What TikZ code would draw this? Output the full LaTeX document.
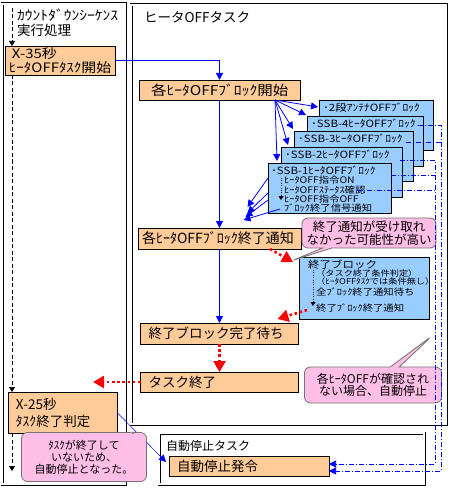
\documentclass[tikz,border=0pt]{standalone}
\usepackage{fontspec}
\setmainfont{Noto Sans CJK JP}
\newfontfamily\wide[FakeStretch=1.15]{Noto Sans CJK JP}
\usetikzlibrary{arrows.meta, positioning, calc, shapes.callouts}
\definecolor{peach}{RGB}{255,204,153}
\definecolor{skyblue}{RGB}{153,204,255}
\definecolor{pinknote}{RGB}{255,190,230}
\definecolor{linkblue}{RGB}{0,0,255}
\newcommand{\fL}{\fontsize{13.5}{15}\selectfont}
\newcommand{\fM}{\fontsize{12}{13}\selectfont}
\newcommand{\fS}{\wide\fontsize{10}{11}\selectfont}
\newcommand{\fT}{\wide\fontsize{9}{8}\selectfont}

\begin{document}
\begin{tikzpicture}[x=1pt, y=-1pt,
  basic/.style   = {draw, line width=0.8pt, outer sep=0pt, anchor=north west},
  peach/.style   = {basic, fill=peach, align=left, font=\fL, inner xsep=8pt, inner ysep=0pt},
  bluebox/.style = {basic, fill=skyblue, inner sep=0pt},
  lbl/.style     = {anchor=north west, align=left, inner sep=0pt, font=\fS},
  frame/.style   = {draw, double, double distance=1.6pt, line width=0.7pt},
  title/.style   = {anchor=north west, align=left, inner sep=0pt},
  note/.style    = {rectangle callout, draw=black!55, fill=pinknote, line width=0.8pt,
                    rounded corners=6pt, callout pointer width=9pt, align=center, inner sep=0pt},
  flow/.style    = {draw=linkblue, line width=0.8pt, -{Triangle[length=7pt,width=7pt]}},
  ctrl/.style    = {draw=linkblue, line width=0.6pt, dash pattern=on 5pt off 2pt on 1pt off 2pt},
  seq/.style     = {draw, line width=0.6pt, dash pattern=on 4pt off 2.5pt, -{Triangle[length=5pt,width=6pt]}},
  alarm/.style   = {draw=red, line width=2.6pt, dash pattern=on 2.6pt off 2.6pt,
                    -{Triangle[length=11pt,width=12pt]}}]

\useasboundingbox (0,0) rectangle (451,489);

% the three task frames
\draw[frame] (2,4) rectangle (125,484);
\draw[frame] (131,5) rectangle (446,424);
\draw[frame] (159,433) rectangle (424,484);
\node[title, font=\fontsize{13.5}{15}\selectfont] (lane1) at (17,9) {{\wide ｶｳﾝﾄﾀﾞｳﾝｼｰｹﾝｽ}\\実行処理};
\node[title, font=\fL] (lane2) at (144,11) {ヒータOFFタスク};
\node[title, font=\fM] (lane3) at (166,440) {自動停止タスク};

% countdown sequence
\node[peach, text width=102pt, minimum height=29pt, inner xsep=4pt, font=\wide\fontsize{13}{13.5}\selectfont]
  (x35) at (5,46) {\hspace*{3pt}X-35秒\\ﾋｰﾀOFFﾀｽｸ開始};
\node[peach, text width=93pt, minimum height=41pt, font=\fontsize{13.5}{17}\selectfont]
  (x25) at (8,392) {X-25秒\\ﾀｽｸ終了判定};

% heater OFF task, main column
\node[peach, text width=137pt, minimum height=20pt, inner xsep=12pt, font=\wide\fL] (start) at (139,80) {各ﾋｰﾀOFFﾌﾞﾛｯｸ開始};
\node[peach, text width=155pt, minimum height=21pt, inner xsep=4pt, font=\fontsize{14}{15}\selectfont,
  below=128pt of start] (fin) {各ﾋｰﾀOFFﾌﾞﾛｯｸ終了通知};
\node[peach, text width=142pt, minimum height=21pt, below=74pt of fin] (wait) {終了ブロック完了待ち};
\node[peach, text width=142pt, minimum height=20pt, below=28pt of wait] (tend) {タスク終了};

% auto stop task
\node[peach, text width=144pt, minimum height=20pt] (stop) at (169,456) {自動停止発令};

% stacked heater blocks, back to front
\foreach \n/\xx/\yy/\w/\txt in {1/319/100/114/{･2段ｱﾝﾃﾅOFFﾌﾞﾛｯｸ},
                                2/307/116/116/{･SSB-4ﾋｰﾀOFFﾌﾞﾛｯｸ},
                                3/294/131/119/{･SSB-3ﾋｰﾀOFFﾌﾞﾛｯｸ},
                                4/281/147/121/{･SSB-2ﾋｰﾀOFFﾌﾞﾛｯｸ}} {
  \node[bluebox, minimum width=\w pt, minimum height=50pt] (b\n) at (\xx,\yy) {};
  \node[lbl] (b\n-txt) at ($(b\n.north west)+(4,3)$) {\txt};
}
\node[bluebox, minimum width=123pt, minimum height=50pt] (b5) at (268,163) {};
\node[lbl, font=\fT] (b5-txt) at ($(b5.north west)+(3,3)$)
  {{\fS ･SSB-1ﾋｰﾀOFFﾌﾞﾛｯｸ}\\
   \hspace*{13pt}ﾋｰﾀOFF指令ON\\
   \hspace*{13pt}ﾋｰﾀOFFｽﾃｰﾀｽ確認\\
   \hspace*{13pt}ﾋｰﾀOFF指令OFF\\
   \hspace*{13pt}ﾌﾞﾛｯｸ終了信号通知};
\draw[dotted, -{Triangle[length=4pt,width=5pt]}] ($(b5.north west)+(13,15)$) -- ($(b5.north west)+(13,37)$);

% end block
\node[bluebox, minimum width=130pt, minimum height=62pt] (endblk) at (299,257) {};
\node[lbl, font=\fT] (endblk-txt) at ($(endblk.north west)+(9,3)$)
  {{\fontsize{10}{11}\selectfont 終了ブロック}\\
   \hspace*{8pt}{\fontsize{8}{8}\selectfont （タスク終了条件判定）}\\
   \hspace*{8pt}{\fontsize{8}{8}\selectfont （ﾋｰﾀOFFﾀｽｸでは条件無し）}\\[1pt]
   \hspace*{8pt}全ﾌﾞﾛｯｸ終了通知待ち\\[7pt]
   \hspace*{8pt}終了ﾌﾞﾛｯｸ終了通知};
\draw[dotted, -{Triangle[length=4pt,width=5pt]}] ($(endblk.north west)+(14,13)$) -- ($(endblk.north west)+(14,49)$);

% countdown dashed line
\coordinate (cdtop) at (12,8);
\coordinate (cdend) at (12,471);
\draw[seq] (cdtop) -- (cdtop |- x35.north);
\draw[seq] (cdtop |- x35.south) -- (cdtop |- x25.north);
\draw[seq] (cdtop |- x25.south) -- (cdend);

% main flow
\draw[flow] (x35.east) -| (start.north);
\draw[flow] (start.south) -- (fin.north);
\draw[flow] (fin.south) -- (wait.north);
\draw[flow, line width=0.5pt] (x25.east) -- ($(stop.north west)+(-3,6)$);

% fan out to the heater blocks
\coordinate (fan) at ($(start.south east)+(-25,0)$);
\coordinate (t1) at ($(b1.north west)+(-1,7)$);
\coordinate (t2) at ($(b2.north west)+(-1,-1)$);
\coordinate (t3) at ($(b3.north west)+(-1,-2)$);
\coordinate (t4) at ($(b4.north west)+(7,-2)$);
\coordinate (t5) at ($(b5.north west)+(9,-2)$);
\foreach \i in {1,...,5}
  \draw[flow] (fan) -- (t\i);

% block end signals
\foreach \s/\e in {{0,15}/{28,-21}, {0,30}/{28,-15}, {0,37}/{26,-11}, {12,46}/{24,-8}}
  \draw[flow] ($(b5.north west)+(\s)$) -- ($(fin.north)+(\e)$);

% notes
\node[note, minimum width=134pt, minimum height=30pt, font=\fontsize{12.5}{13}\selectfont,
  callout absolute pointer={(291,261)}] (n1) at (369,233) {終了通知が受け取れ\\なかった可能性が高い};
\node[note, minimum width=137pt, minimum height=36pt, font=\fontsize{12}{12.5}\selectfont,
  callout absolute pointer={(432,336)}] (n2) at (373,385) {各ﾋｰﾀOFFが確認され\\ない場合、自動停止};
\node[note, minimum width=125pt, minimum height=49pt, font=\fontsize{11}{12}\selectfont,
  callout absolute pointer={(138,432)}] (n3) at (84,457) {ﾀｽｸが終了して\\いないため、\\自動停止となった。};

% end of task, red dotted
\coordinate (lost) at (93,382);
\draw[alarm] ($(fin.south east)+(-31,0)$) -- ($(endblk.north west)+(-6,5)$);
\draw[alarm] ($(endblk.south west)+(8,-9)$) -- ($(wait.north east)+(-21,-4)$);
\draw[alarm] (wait.south) -- (tend.north);
\draw[alarm] (tend.west) -- (lost);

% supervision lines to the auto stop
\coordinate (busA) at (441,471);
\coordinate (busB) at (435,464);
\coordinate (r1) at ($(b2.north east)+(-5,9)$);
\coordinate (r2) at ($(b3.north east)+(-7,11)$);
\coordinate (r3) at ($(b4.north east)+(-2,13)$);
\coordinate (r4) at ($(b5.north east)+(0,12)$);
\coordinate (r5) at ($(b5.north west)+(89,27)$);
\draw[ctrl, -{Triangle[length=7pt,width=7pt]}] (r1) -| (busA) -- (busA -| stop.east);
\draw[ctrl, -{Triangle[length=7pt,width=7pt]}] (r3) -| (busB) -- (busB -| stop.east);
\draw[ctrl] (r2) -- (r2 -| busA);
\draw[ctrl] (r4) -- (r4 -| busB);
\draw[ctrl] (r5) -- (r5 -| busB);

\end{tikzpicture}
\end{document}
